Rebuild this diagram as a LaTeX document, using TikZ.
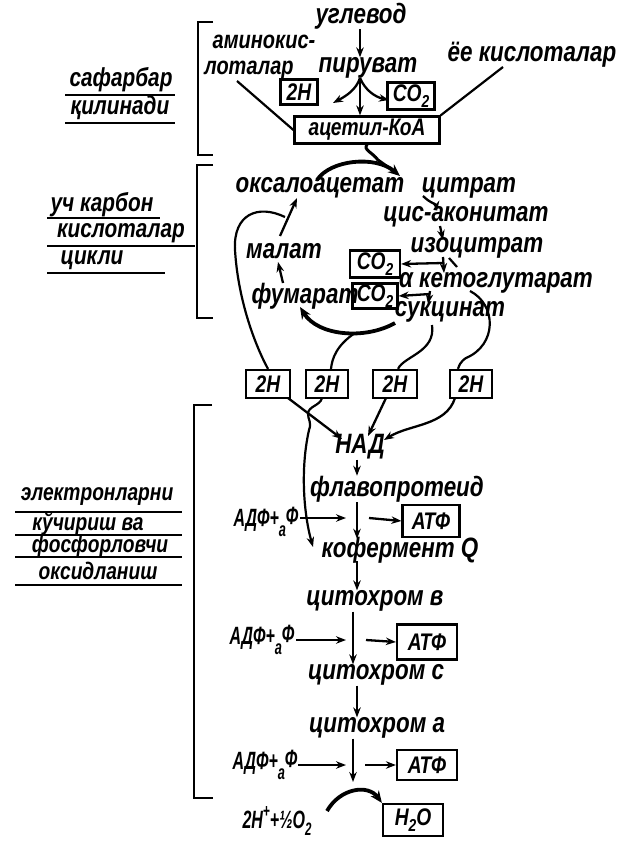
\documentclass[tikz,border=0pt]{standalone}
\usepackage{fontspec}
\usepackage{graphicx}
\setmainfont{Liberation Sans}
\newfontfamily\hand[FakeStretch=0.80]{Liberation Sans}
\usetikzlibrary{arrows.meta}
\newcommand\lowsub[1]{\raisebox{-0.28em}{\scalebox{0.72}{#1}}}
\newcommand\adfp{\scalebox{0.8}[1]{АДФ+\raisebox{-0.4em}{\scalebox{0.8}{а}}\raisebox{0.05em}{Ф}}}
\begin{document}
\begin{tikzpicture}[x=1pt,y=-1pt,
  txt/.style={font=\hand\bfseries\itshape\fontsize{28}{30}\selectfont, inner sep=0pt},
  small txt/.style={font=\hand\bfseries\itshape\fontsize{25}{27}\selectfont, inner sep=0pt},
  side/.style={font=\hand\bfseries\itshape\fontsize{26}{28}\selectfont, inner sep=0pt},
  side3/.style={font=\hand\bfseries\itshape\fontsize{24}{26}\selectfont, inner sep=0pt},
  adf/.style={font=\hand\bfseries\itshape\fontsize{25}{27}\selectfont, inner sep=0pt},
  box/.style={draw, line width=2.2pt, inner sep=0pt, font=\hand\bfseries\itshape\fontsize{24}{26}\selectfont},
  con/.style={line width=2.2pt},
  arr/.style={line width=2.3pt, -{Stealth[length=10pt,width=7.5pt]}},
  bigarr/.style={line width=3.8pt, -{Stealth[length=12pt,width=10pt]}},
  brace/.style={line width=2.2pt},
  uline/.style={line width=2.2pt}
]
\useasboundingbox (0,0) rectangle (631,842);
\fill[white] (0,0) rectangle (631,842);

% ---- mobilisation of fuels ----
\node[txt] (ugl) at (361,16) {углевод};
\node[small txt] (am1) at (264,42) {аминокис-};
\node[small txt] (am2) at (249,70) {лоталар};
\node[txt] (pir) at (368,68) {пируват};
\node[txt] (yog) at (532,55) {ёе кислоталар};
\node[box, minimum width=37, minimum height=25] (h2a) at (299,92) {2H};
\node[box, minimum width=47, minimum height=27] (co2a) at (411,96) {CO\lowsub{2}};
\node[box, minimum width=145, minimum height=27] (acoa) at (367,130) {ацетил-КоА};

\coordinate (pirs) at (360,78);
\draw[arr] (ugl.south -| pirs) -- (pir.north -| pirs);
\draw[arr] (pirs) .. controls (356,90) and (346,96) .. (333,103);
\draw[arr] (pirs) -- (acoa.north -| pirs);
\draw[arr] (pirs) .. controls (365,90) and (375,97) .. (389,100);
\coordinate (am2e) at (237,81);
\coordinate (yoge) at (503,67);
\draw[con] (am2e) -- (acoa.west);
\draw[con] (yoge) -- (acoa.north east);

% ---- tricarboxylic acid cycle ----
\node[txt] (oaa) at (320,188) {оксалоацетат};
\node[txt] (cit) at (469,188) {цитрат};
\node[txt] (cis) at (466,217) {цис-аконитат};
\node[txt] (iso) at (477,248) {изоцитрат};
\node[txt] (akg) at (496,283) {α кетоглутарат};
\node[txt] (suk) at (450,312) {сукцинат};
\node[txt] (fum) at (305,296) {фумарат};
\node[txt] (mal) at (284,251) {малат};
\node[box, minimum width=50, minimum height=27] (co2b) at (375,264) {CO\lowsub{2}};
\node[box, minimum width=45, minimum height=25] (co2c) at (375,296) {CO\lowsub{2}};

\coordinate (join) at (400,176);
\draw[line width=3pt] (acoa.south) .. controls (363,150) and (372,152) .. (378,160) -- (392,170);
\draw[bigarr] (317,180) .. controls (330,160) and (375,155) .. (join);

\coordinate (c1) at (423,196);
\coordinate (c2) at (437,211);
\coordinate (c3) at (440,226);
\coordinate (c4) at (443,240);
\coordinate (c5) at (443,257);
\coordinate (c6) at (444,273);
\coordinate (cb) at (443,263);
\draw[arr] (c1) .. controls (430,203) and (436,204) .. (c2);
\draw[arr] (c3) -- (c4);
\draw[arr] (c5) -- (c6);
\draw[arr] (cb) -- (co2b.east);
\draw[con] (449,258) -- (457,267);

\coordinate (k1) at (430,291);
\coordinate (kb) at (430,294);
\draw[arr] (k1) -- (428,304);
\draw[arr] (kb) -- (co2c.east);

\coordinate (sk) at (395,323);
\coordinate (fa) at (300,307);
\draw[bigarr] (sk) .. controls (365,340) and (318,336) .. (fa);
\draw[arr] (283,283) -- (278,262);
\coordinate (ma) at (280,236);
\draw[arr] (ma) -- (297,198);

% ---- hydrogen pairs ----
\node[box, minimum width=44, minimum height=28] (h1) at (268,384) {2H};
\node[box, minimum width=42, minimum height=28] (h2) at (327,384) {2H};
\node[box, minimum width=44, minimum height=28] (h3) at (395,384) {2H};
\node[box, minimum width=42, minimum height=28] (h4) at (471,384) {2H};

\coordinate (lp) at (285,217);
\draw[con] (lp) .. controls (258,204) and (233,214) .. (235,250)
  .. controls (238,300) and (255,345) .. (h1.north);
\coordinate (ab) at (355,333);
\draw[con] (ab) .. controls (337,345) and (332,358) .. (h2.north -| 331,0);
\coordinate (sb) at (432,325);
\draw[con] (sb) .. controls (436,352) and (404,356) .. (h3.north -| 398,0);
\coordinate (kg) at (470,291);
\draw[con] (kg) .. controls (497,305) and (497,345) .. (466,358) .. controls (460,362) and (459,366) .. (h4.north -| 458,0);

% ---- respiratory chain ----
\node[txt] (nad) at (360,447) {НАД};
\node[txt] (flv) at (397,489) {флавопротеид};
\node[txt] (kfq) at (400,550) {кофермент Q};
\node[txt] (ctb) at (375,601) {цитохром в};
\node[txt] (ctc) at (376,675) {цитохром с};
\node[txt] (cta) at (377,728) {цитохром а};

\draw[arr] (288,398) -- (342,439);
\draw[arr] (386,398) -- (368,436);
\draw[arr] (455,398) .. controls (446,426) and (410,424) .. (384,440);
\coordinate (kq) at (313,547);
\draw[con, -{Stealth[length=10pt,width=7.5pt]}] (322,398) .. controls (320,406) and (308,406) .. (308,414)
  .. controls (308,420) and (312,422) .. (309,430)
  .. controls (300,470) and (304,515) .. (kq);

\coordinate (col) at (357,0);
\draw[arr] (col |- nad.south) -- (col |- flv.north);
\node[adf] (adf1) at (266,522) {\adfp};
\node[box, minimum width=57, minimum height=32] (atf1) at (431,521) {АТФ};
\draw[arr] (col |- flv.south) -- ([yshift=-2pt]col |- kfq.north);
\draw[arr] (300,518) -- (346,518);
\draw[arr] (369,518) -- (atf1.west);

\draw[arr] ([yshift=2pt]col |- kfq.south) -- (col |- ctb.north);

\coordinate (col2) at (353,0);
\node[adf] (adf2) at (262,640) {\adfp};
\node[box, minimum width=60, minimum height=35] (atf2) at (427,642) {АТФ};
\draw[arr] (col2 |- ctb.south) -- (col2 |- ctc.north);
\draw[arr] (296,640) -- (346,640);
\draw[arr] (366,640) -- (atf2.west);

\draw[arr] (col |- ctc.south) -- (col |- cta.north);

\node[adf] (adf3) at (265,765) {\adfp};
\node[box, minimum width=60, minimum height=30] (atf3) at (427,765) {АТФ};
\draw[arr] (col2 |- cta.south) -- (353,782);
\draw[arr] (298,765) -- (346,765);
\draw[arr] (365,765) -- (atf3.west);

\node[adf] (oxy) at (277,821) {\scalebox{0.8}[1]{2H\raisebox{0.45em}{\scalebox{0.75}{+}}+½O\lowsub{2}}};
\node[box, minimum width=60, minimum height=32] (wat) at (413,820) {H\lowsub{2}O};
\coordinate (oxe) at (327,811);
\draw[bigarr] (oxe) .. controls (340,788) and (368,784) .. (wat.north west);

% ---- brackets and side captions ----
\draw[brace] (213,22) -- (198,22) -- (198,155) -- (213,155);
\draw[brace] (213,165) -- (197,165) -- (197,318) -- (213,318);
\draw[brace] (212,405) -- (194,405) -- (194,798) -- (213,798);

\node[side] (s1a) at (121,80) {сафарбар};
\node[side] (s1b) at (120,108) {қилинади};
\draw[uline] (65,95) -- (175,95);
\draw[uline] (65,123) -- (175,123);

\node[side] (s2a) at (102,205) {уч карбон};
\node[side] (s2b) at (121,233) {кислоталар};
\node[side] (s2c) at (92,260) {цикли};
\draw[uline] (47,218) -- (160,218);
\draw[uline] (47,246) -- (195,246);
\draw[uline] (47,273) -- (165,273);

\node[side3] (s3a) at (97,497) {электронларни};
\node[side3] (s3b) at (88,524) {кўчириш ва};
\node[side3] (s3c) at (100,546) {фосфорловчи};
\node[side3] (s3d) at (98,571) {оксидланиш};
\draw[uline] (15,512) -- (182,512);
\draw[uline] (15,535) -- (182,535);
\draw[uline] (15,557) -- (182,557);
\draw[uline] (15,585) -- (182,585);
\end{tikzpicture}
\end{document}
